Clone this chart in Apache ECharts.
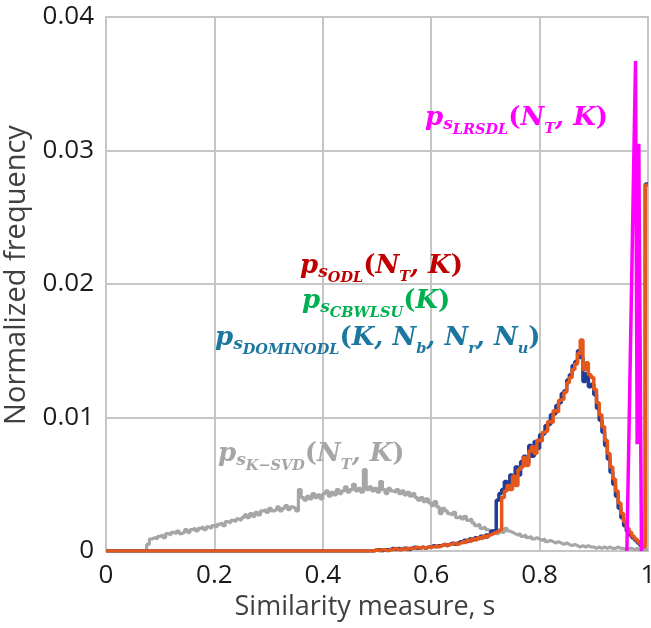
<!DOCTYPE html>
<html>
<head>
<meta charset="utf-8">
<script src="https://cdn.jsdelivr.net/npm/echarts@6/dist/echarts.min.js"></script>
<style>
html,body{margin:0;padding:0;background:#fff;}
#chart{width:651px;height:628px;}
</style>
</head>
<body>
<div id="chart"></div>
<script>
// ---------- data ----------
const binStep = 0.005;           // histogram bin width, bins start at s = 0
const xTicks = [0, 0.2, 0.4, 0.6, 0.8, 1];
const yTicks = [0, 0.01, 0.02, 0.03, 0.04];

// p_s K-SVD (grey)
const kSvd = [
0,0,0,0,0,0,0,0,0,0,
0,0,0,0,0,0,0.0005,0.0009,0.0010,0.0009,
0.0011,0.0012,0.0010,0.0013,0.0012,0.0014,0.0013,0.0015,0.0013,0.0014,
0.0016,0.0014,0.0016,0.0017,0.0015,0.0017,0.0018,0.0016,0.0018,0.0017,
0.0019,0.0018,0.0020,0.0021,0.0019,0.0022,0.0021,0.0023,0.0022,0.0024,
0.0023,0.0025,0.0027,0.0025,0.0028,0.0026,0.0029,0.0027,0.0030,0.0031,
0.0029,0.0032,0.0030,0.0031,0.0033,0.0030,0.0032,0.0034,0.0031,0.0033,
0.0032,0.0030,0.0046,0.0040,0.0038,0.0041,0.0039,0.0043,0.0040,0.0042,
0.0039,0.0043,0.0045,0.0041,0.0044,0.0042,0.0046,0.0043,0.0045,0.0048,
0.0044,0.0046,0.0050,0.0045,0.0047,0.0044,0.0061,0.0046,0.0048,0.0045,
0.0047,0.0044,0.0052,0.0046,0.0043,0.0047,0.0045,0.0044,0.0046,0.0043,
0.0045,0.0042,0.0044,0.0041,0.0043,0.0040,0.0038,0.0040,0.0037,0.0039,
0.0036,0.0034,0.0037,0.0033,0.0028,0.0032,0.0030,0.0028,0.0027,0.0029,
0.0025,0.0026,0.0024,0.0026,0.0023,0.0024,0.0021,0.0019,0.0020,0.0017,
0.0018,0.0016,0.0015,0.0014,0.0015,0.0013,0.0016,0.0014,0.0017,0.0015,
0.0014,0.0013,0.0012,0.0013,0.0011,0.0012,0.0010,0.0011,0.0009,0.0010,
0.0009,0.0008,0.0009,0.0007,0.0008,0.0007,0.0006,0.0007,0.0006,0.0005,
0.0006,0.0005,0.0004,0.0005,0.0004,0.0003,0.0004,0.0003,0.0004,0.0003,
0.0003,0.0002,0.0003,0.0002,0.0003,0.0002,0.0003,0.0002,0.0002,0.0003,
0.0002,0.0002,0.0001,0.0002,0.0002,0.0001,0.0002,0.0001,0.0001,0.0001,
0.0001
];

// dark blue curve
const blueCurve = [
0,0,0,0,0,0,0,0,0,0, 0,0,0,0,0,0,0,0,0,0,
0,0,0,0,0,0,0,0,0,0, 0,0,0,0,0,0,0,0,0,0,
0,0,0,0,0,0,0,0,0,0, 0,0,0,0,0,0,0,0,0,0,
0,0,0,0,0,0,0,0,0,0, 0,0,0,0,0,0,0,0,0,0,
0,0,0,0,0,0,0,0,0,0, 0,0,0,0,0,0,0,0,0,0,
0.0001,0.0001,0.0000,0.0001,0.0001,0.0001,0.0002,0.0001,0.0002,0.0001,
0.0002,0.0002,0.0001,0.0002,0.0003,0.0002,0.0002,0.0003,0.0002,0.0003,
0.0003,0.0004,0.0003,0.0004,0.0004,0.0005,0.0004,0.0005,0.0006,0.0005,
0.0006,0.0007,0.0006,0.0008,0.0007,0.0009,0.0008,0.0010,0.0009,0.0011,
0.0010,0.0012,0.0013,0.0015,0.0016,0.0038,0.0043,0.0046,0.0052,0.0047,
0.0057,0.0052,0.0063,0.0057,0.0067,0.0071,0.0066,0.0079,0.0071,0.0082,
0.0077,0.0087,0.0088,0.0094,0.0095,0.0102,0.0103,0.0109,0.0111,0.0118,
0.0120,0.0128,0.0132,0.0139,0.0142,0.0150,0.0145,0.0127,0.0133,0.0123,
0.0125,0.0117,0.0107,0.0098,0.0089,0.0079,0.0069,0.0059,0.0050,0.0041,
0.0032,0.0025,0.0019,0.0015,0.0012,0.0010,0.0008,0.0006,0.0004,0.0003,
0.0275
];

// orange curve
const orangeCurve = [
0,0,0,0,0,0,0,0,0,0, 0,0,0,0,0,0,0,0,0,0,
0,0,0,0,0,0,0,0,0,0, 0,0,0,0,0,0,0,0,0,0,
0,0,0,0,0,0,0,0,0,0, 0,0,0,0,0,0,0,0,0,0,
0,0,0,0,0,0,0,0,0,0, 0,0,0,0,0,0,0,0,0,0,
0,0,0,0,0,0,0,0,0,0, 0,0,0,0,0,0,0,0,0,0,
0.0001,0.0000,0.0001,0.0001,0.0000,0.0001,0.0001,0.0002,0.0001,0.0001,
0.0002,0.0001,0.0002,0.0002,0.0002,0.0003,0.0002,0.0003,0.0002,0.0003,
0.0003,0.0003,0.0004,0.0003,0.0004,0.0005,0.0004,0.0005,0.0005,0.0006,
0.0005,0.0006,0.0007,0.0006,0.0008,0.0007,0.0009,0.0008,0.0010,0.0009,
0.0011,0.0010,0.0012,0.0013,0.0014,0.0015,0.0016,0.0040,0.0045,0.0049,
0.0046,0.0056,0.0049,0.0061,0.0063,0.0070,0.0064,0.0075,0.0078,0.0073,
0.0083,0.0082,0.0089,0.0090,0.0097,0.0096,0.0105,0.0104,0.0113,0.0114,
0.0119,0.0126,0.0130,0.0136,0.0140,0.0148,0.0158,0.0136,0.0141,0.0132,
0.0130,0.0121,0.0111,0.0102,0.0093,0.0083,0.0073,0.0063,0.0054,0.0045,
0.0036,0.0028,0.0022,0.0017,0.0014,0.0011,0.0009,0.0007,0.0005,0.0003,
0.0274
];

// p_s LRSDL (magenta spike)
const lrsdlS = [0.961, 0.977, 0.980, 0.983, 0.988];
const lrsdlP = [0, 0.0367, 0.008, 0.0305, 0];

// ---------- build ----------
const pairs = arr => arr.map((v, i) => [+(i * binStep).toFixed(4), v]);

const ctx = document.createElement('canvas').getContext('2d');
const FAM = '"DejaVu Serif"';
function fontStr(tok) {
  return (tok.up ? '' : 'italic ') + 'bold ' + tok.size + 'px ' + FAM;
}
function mathText(x0, base, color, toks) {
  let x = x0;
  const els = [];
  toks.forEach(tok => {
    const f = fontStr(tok);
    ctx.font = f;
    const w = ctx.measureText(tok.t).width;
    els.push({
      type: 'text', x: x, y: base + (tok.dy || 0) - tok.size * 0.32,
      silent: true, z: 100,
      style: { text: tok.t, font: f, fill: color, align: 'left', verticalAlign: 'middle' }
    });
    x += w + (tok.gap || 0);
  });
  return els;
}
const M = 26, S1 = 17, S2 = 14.5;
const P = (t) => ({ t: t, size: M });
const U = (t) => ({ t: t, size: M, up: 1 });
const sub1 = (t) => ({ t: t, size: S1, dy: 3 });
const sub2 = (t) => ({ t: t, size: S2, dy: 8 });
const subN = (t) => ({ t: t, size: S2, dy: 7 });

const labels = [].concat(
  mathText(425, 127, '#ff00ff', [P('p'), sub1('s'), sub2('LRSDL'), U('('), P('N'), subN('T'), P(', '), P('K'), U(')')]),
  mathText(300, 275, '#c00000', [P('p'), sub1('s'), sub2('ODL'), U('('), P('N'), subN('T'), P(', '), P('K'), U(')')]),
  mathText(302, 310, '#00b050', [P('p'), sub1('s'), sub2('CBWLSU'), U('('), P('K'), U(')')]),
  mathText(215, 347, '#1b77a0', [P('p'), sub1('s'), sub2('DOMINODL'), U('('), P('K'), P(', '), P('N'), subN('b'), P(', '), P('N'), subN('r'), P(', '), P('N'), subN('u'), U(')')]),
  mathText(218, 463, '#a6a6a6', [P('p'), sub1('s'), sub2('K\u2212SVD'), U('('), P('N'), subN('T'), P(', '), P('K'), U(')')])
);

const chart = echarts.init(document.getElementById('chart'));
const gridColor = '#c6c6c6';
chart.setOption({
  backgroundColor: '#ffffff',
  animation: false,
  grid: { left: 106, right: 3, top: 17, bottom: 77, show: true, borderColor: gridColor, borderWidth: 2,
          containLabel: false, outerBoundsMode: 'none' },
  xAxis: {
    type: 'value', min: 0, max: 1, interval: 0.2,
    name: 'Similarity measure, s', nameLocation: 'middle', nameGap: 37,
    nameTextStyle: { fontFamily: 'Open Sans', fontSize: 27, color: '#404040', padding: [0, 24, 0, 0] },
    axisLine: { show: false }, axisTick: { show: false },
    axisLabel: { fontFamily: 'Open Sans', fontSize: 26, color: '#1a1a1a', margin: 12,
      formatter: v => String(xTicks.find(t => Math.abs(t - v) < 1e-9) ?? v) },
    splitLine: { show: true, lineStyle: { color: gridColor, width: 2 } }
  },
  yAxis: {
    type: 'value', min: 0, max: 0.04, interval: 0.01,
    name: 'Normalized frequency', nameLocation: 'middle', nameGap: 66,
    nameTextStyle: { fontFamily: 'Open Sans', fontSize: 29, color: '#404040', padding: [0, 0, 0, 18] },
    axisLine: { show: false }, axisTick: { show: false },
    axisLabel: { fontFamily: 'Open Sans', fontSize: 26, color: '#1a1a1a', margin: 12,
      formatter: v => String(yTicks.find(t => Math.abs(t - v) < 1e-9) ?? v) },
    splitLine: { show: true, lineStyle: { color: gridColor, width: 2 } }
  },
  series: [
    { type: 'line', name: 'K-SVD', step: 'start', showSymbol: false, symbol: 'none',
      data: pairs(kSvd), lineStyle: { color: '#a6a6a6', width: 3.2 }, z: 2 },
    { type: 'line', name: 'blue', step: 'start', showSymbol: false, symbol: 'none',
      data: pairs(blueCurve), lineStyle: { color: '#1f3c98', width: 3.5 }, z: 3 },
    { type: 'line', name: 'orange', step: 'start', showSymbol: false, symbol: 'none',
      data: pairs(orangeCurve), lineStyle: { color: '#e5581c', width: 3.5 }, z: 4 },
    { type: 'line', name: 'LRSDL', showSymbol: false, symbol: 'none',
      data: lrsdlS.map((s, i) => [s, lrsdlP[i]]), lineStyle: { color: '#ff00ff', width: 3.5 }, z: 5 }
  ],
  graphic: labels
});
</script>
</body>
</html>
